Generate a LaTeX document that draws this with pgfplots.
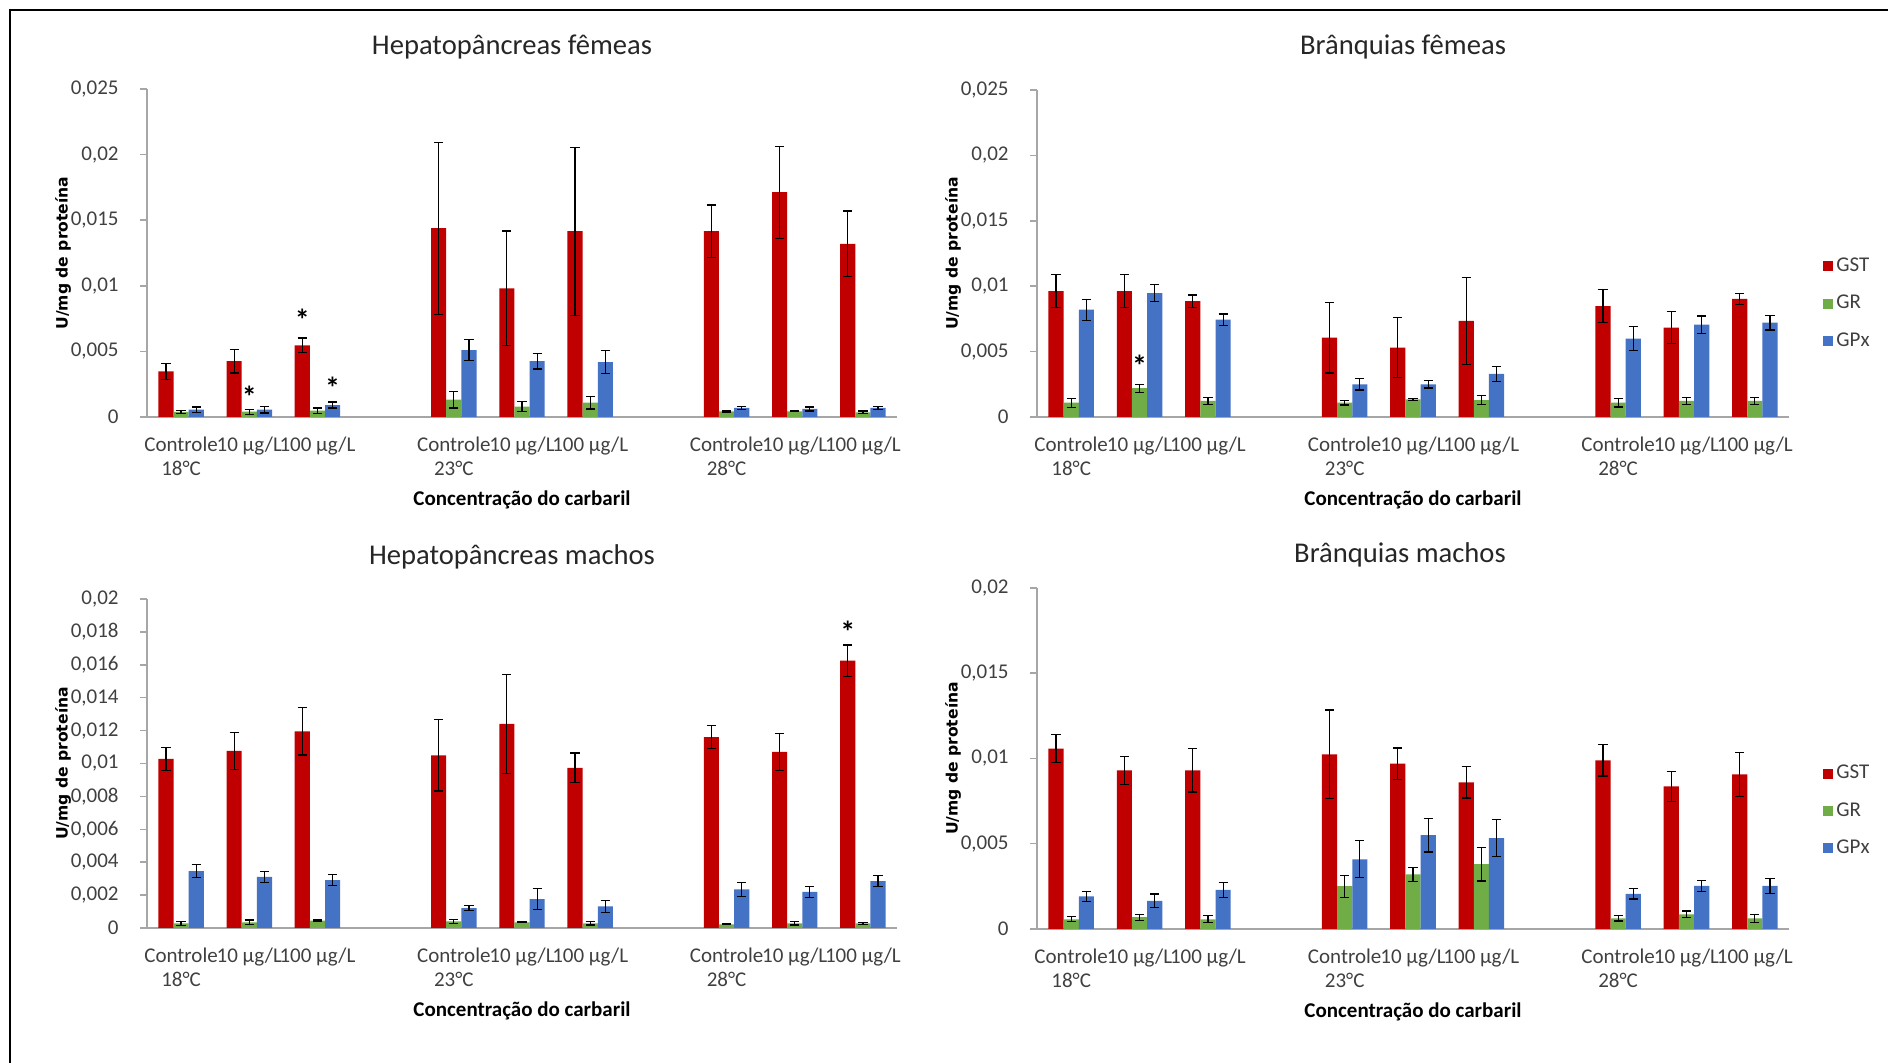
\documentclass[border=0pt]{standalone}
\usepackage{pgfplots}
\pgfplotsset{compat=1.18}
\usepackage{pgfplotstable}
\usepackage{fontspec}
\setmainfont{Carlito}
\newfontfamily\ylabfont{DejaVu Sans}

\definecolor{gstred}{HTML}{C00000}
\definecolor{grgreen}{HTML}{70AD47}
\definecolor{gpxblue}{HTML}{4472C4}
\definecolor{axisgray}{HTML}{A6A6A6}
\definecolor{tickcol}{HTML}{404040}
\definecolor{titlecol}{HTML}{262626}

% x gst gste gr gre gpx gpxe
\pgfplotstableread{
x gst gste gr gre gpx gpxe
0 0.00348 0.0006 0.00038 0.00013 0.00056 0.0002
1 0.00426 0.0009 0.0004 0.00018 0.00056 0.00025
2 0.00546 0.00056 0.00048 0.0002 0.00091 0.00023
4 0.01439 0.00655 0.00132 0.00063 0.0051 0.0008
5 0.0098 0.00437 0.00079 0.0004 0.00426 0.0006
6 0.01416 0.0064 0.00109 0.00048 0.00419 0.0009
8 0.01416 0.002 0.00043 0.00005 0.00069 0.00013
9 0.01713 0.0035 0.00043 0.00004 0.00061 0.00015
10 0.0132 0.0025 0.00036 0.0001 0.00069 0.00013
}\tabA
\pgfplotstableread{
x gst gste gr gre gpx gpxe
0 0.00962 0.00126 0.00109 0.00035 0.0082 0.0008
1 0.00962 0.00126 0.0022 0.0003 0.00946 0.00066
2 0.00886 0.00046 0.00124 0.00028 0.00744 0.00043
4 0.00607 0.0027 0.00109 0.00018 0.0025 0.00043
5 0.00531 0.0023 0.00134 0.0001 0.0025 0.00028
6 0.00734 0.0033 0.00129 0.00035 0.00329 0.00056
8 0.00848 0.00126 0.00109 0.00033 0.006 0.00089
9 0.00683 0.00124 0.00124 0.00028 0.00706 0.00066
10 0.00903 0.0004 0.00124 0.00028 0.00721 0.00056
}\tabB
\pgfplotstableread{
x gst gste gr gre gpx gpxe
0 0.01028 0.0007 0.00028 0.00012 0.00346 0.00038
1 0.01077 0.00113 0.00034 0.00014 0.0031 0.00032
2 0.01196 0.00144 0.00045 0.00004 0.00291 0.00032
4 0.0105 0.00217 0.0004 0.00014 0.00121 0.00016
5 0.01241 0.003 0.00034 0.00002 0.00176 0.00063
6 0.00974 0.0009 0.00028 0.0001 0.00132 0.00036
8 0.0116 0.0007 0.00022 0.00003 0.00235 0.00042
9 0.01071 0.00113 0.00028 0.0001 0.00219 0.00032
10 0.01625 0.00095 0.00028 0.00005 0.00285 0.00032
}\tabC
\pgfplotstableread{
x gst gste gr gre gpx gpxe
0 0.01058 0.00082 0.00057 0.00014 0.00192 0.0003
1 0.0093 0.00084 0.00069 0.00018 0.00165 0.0004
2 0.0093 0.00127 0.00057 0.0002 0.00229 0.00043
4 0.01024 0.0026 0.00251 0.00065 0.00409 0.00108
5 0.0097 0.00092 0.00321 0.00041 0.0055 0.00098
6 0.0086 0.00092 0.0038 0.00098 0.00533 0.0011
8 0.00989 0.00092 0.00063 0.00016 0.00206 0.0003
9 0.00836 0.00088 0.00086 0.0002 0.00253 0.00033
10 0.00907 0.00129 0.00063 0.00024 0.00253 0.00045
}\tabD

\tikzset{
  ylab/.style={rotate=90, font=\ylabfont\bfseries\fontsize{7.8}{9}\selectfont, text=black},
  xlab/.style={font=\bfseries\fontsize{10.5}{12}\selectfont, text=black},
  ttl/.style={font=\fontsize{14.3}{16}\selectfont, text=titlecol},
  star/.style={font=\bfseries\fontsize{15}{15}\selectfont, anchor=base, yshift=-8pt, inner sep=0pt},
}
\pgfplotsset{
  myerr/.style={error bars/.cd, y dir=both, y explicit, error mark=-,
    error bar style={black, line width=0.6pt},
    error mark options={rotate=90, black, line width=0.6pt, mark size=2.3pt}},
  panel/.style={
    scale only axis, anchor=south west, clip=false,
    axis lines*=left,
    axis line style={axisgray, line width=0.75pt, -},
    ybar, bar width=0.2222, ymin=0, enlargelimits=false,
    xmin=-0.5, xmax=10.5,
    xtick=\empty, minor xtick={-0.5,0.5,...,10.5},
    extra x ticks={0,1,2,4,5,6,8,9,10},
    extra x tick labels={{\strut Controle\\18°C},{\strut 10 µg/L},{\strut 100 µg/L},{\strut Controle\\23°C},{\strut 10 µg/L},{\strut 100 µg/L},{\strut Controle\\28°C},{\strut 10 µg/L},{\strut 100 µg/L}},
    extra x tick style={major tick length=0pt, xticklabel style={align=center, anchor=north, inner sep=0pt, yshift=-8.6pt}},
    tick align=outside, major tick length=3.5pt, minor tick length=3pt,
    tick style={axisgray, line width=0.75pt},
    tick label style={font=\fontsize{10.5}{12}\selectfont, text=tickcol},
    yticklabel style={anchor=east, inner sep=0pt, xshift=-10.5pt},
    scaled y ticks=false,
  },
  leg/.style={legend style={at={(1,0.346)}, anchor=west, xshift=17pt, draw=none, fill=none,
      inner sep=0pt, row sep=9.7pt, font=\fontsize{10.5}{12}\selectfont, text=tickcol,
      nodes={inner xsep=1.5pt, inner ysep=0pt, text height=7pt, text depth=2pt}},
      legend cell align=left,
      legend image code/.code={\fill[##1] (0pt,-2.5pt) rectangle (5pt,2.5pt);}},
}

\begin{document}
\begin{tikzpicture}
\useasboundingbox (0pt,0pt) rectangle (944pt,531.5pt);
\draw[black, line width=1pt] (5pt,0pt) -- (5pt,526.5pt) -- (944pt,526.5pt);

% Panel A
\begin{axis}[panel, at={(73.5pt,323pt)}, width=375pt, height=164pt, ymax=0.025,
  ytick={0,0.005,0.01,0.015,0.02,0.025},
  yticklabels={0,{0,005},{0,01},{0,015},{0,02},{0,025}}]
\addplot[draw=none, fill=gstred, bar shift=-0.2222, myerr] table[x=x, y=gst, y error=gste] {\tabA};
\addplot[draw=none, fill=grgreen, bar shift=0, myerr] table[x=x, y=gr, y error=gre] {\tabA};
\addplot[draw=none, fill=gpxblue, bar shift=0.2222, myerr] table[x=x, y=gpx, y error=gpxe] {\tabA};
\node[star] at (axis cs:1,0.00195) {*};
\node[star] at (axis cs:1.7778,0.0078) {*};
\node[star] at (axis cs:2.2222,0.00264) {*};
\node[ylab] at ([xshift=-42pt]rel axis cs:0,0.5) {U/mg de proteína};
\node[xlab] at ([yshift=-41.5pt]rel axis cs:0.5,0) {Concentração do carbaril};
\end{axis}

% Panel B
\begin{axis}[panel, leg, at={(518.5pt,323pt)}, width=376pt, height=163.5pt, ymax=0.025,
  ytick={0,0.005,0.01,0.015,0.02,0.025},
  yticklabels={0,{0,005},{0,01},{0,015},{0,02},{0,025}}]
\addplot[draw=none, fill=gstred, bar shift=-0.2222, myerr] table[x=x, y=gst, y error=gste] {\tabB};
\addplot[draw=none, fill=grgreen, bar shift=0, myerr] table[x=x, y=gr, y error=gre] {\tabB};
\addplot[draw=none, fill=gpxblue, bar shift=0.2222, myerr] table[x=x, y=gpx, y error=gpxe] {\tabB};
\legend{GST,GR,GPx}
\node[star] at (axis cs:1,0.0043) {*};
\node[ylab] at ([xshift=-42pt]rel axis cs:0,0.5) {U/mg de proteína};
\node[xlab] at ([yshift=-41.5pt]rel axis cs:0.5,0) {Concentração do carbaril};
\end{axis}

% Panel C
\begin{axis}[panel, at={(73.5pt,67.5pt)}, width=375pt, height=164.5pt, ymax=0.02,
  ytick={0,0.002,0.004,0.006,0.008,0.01,0.012,0.014,0.016,0.018,0.02},
  yticklabels={0,{0,002},{0,004},{0,006},{0,008},{0,01},{0,012},{0,014},{0,016},{0,018},{0,02}}]
\addplot[draw=none, fill=gstred, bar shift=-0.2222, myerr] table[x=x, y=gst, y error=gste] {\tabC};
\addplot[draw=none, fill=grgreen, bar shift=0, myerr] table[x=x, y=gr, y error=gre] {\tabC};
\addplot[draw=none, fill=gpxblue, bar shift=0.2222, myerr] table[x=x, y=gpx, y error=gpxe] {\tabC};
\node[star] at (axis cs:9.7778,0.01834) {*};
\node[ylab] at ([xshift=-42pt]rel axis cs:0,0.5) {U/mg de proteína};
\node[xlab] at ([yshift=-41.5pt]rel axis cs:0.5,0) {Concentração do carbaril};
\end{axis}

% Panel D
\begin{axis}[panel, leg, at={(518.5pt,67pt)}, width=376pt, height=170.5pt, ymax=0.02,
  ytick={0,0.005,0.01,0.015,0.02},
  yticklabels={0,{0,005},{0,01},{0,015},{0,02}}]
\addplot[draw=none, fill=gstred, bar shift=-0.2222, myerr] table[x=x, y=gst, y error=gste] {\tabD};
\addplot[draw=none, fill=grgreen, bar shift=0, myerr] table[x=x, y=gr, y error=gre] {\tabD};
\addplot[draw=none, fill=gpxblue, bar shift=0.2222, myerr] table[x=x, y=gpx, y error=gpxe] {\tabD};
\legend{GST,GR,GPx}
\node[ylab] at ([xshift=-42pt]rel axis cs:0,0.5) {U/mg de proteína};
\node[xlab] at ([yshift=-41.5pt]rel axis cs:0.5,0) {Concentração do carbaril};
\end{axis}

\node[ttl] at (256pt,508pt) {Hepatopâncreas fêmeas};
\node[ttl] at (701.5pt,508pt) {Brânquias fêmeas};
\node[ttl] at (256pt,253pt) {Hepatopâncreas machos};
\node[ttl] at (700pt,254pt) {Brânquias machos};
\end{tikzpicture}
\end{document}
